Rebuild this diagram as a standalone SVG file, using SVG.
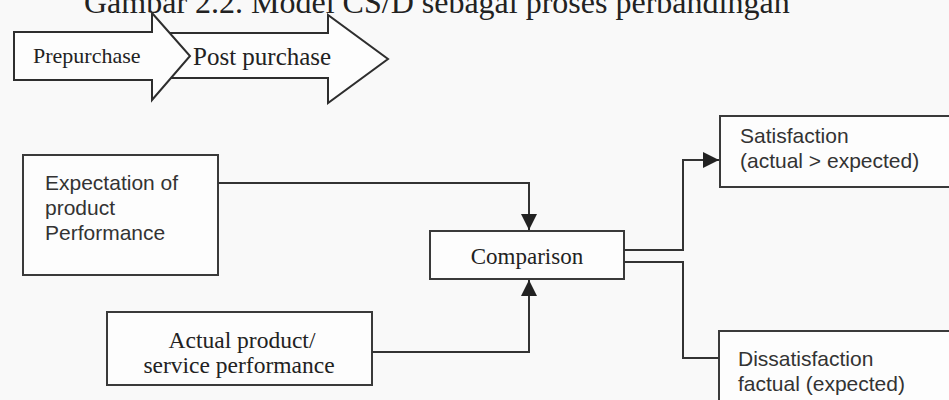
<svg xmlns="http://www.w3.org/2000/svg" width="949" height="400" viewBox="0 0 949 400">
<defs>
<style>
.box{fill:#fdfdfd;stroke:#3a3a3a;stroke-width:2}
.big{fill:#fdfdfd;stroke:#2e2e2e;stroke-width:2;stroke-linejoin:miter}
.con{fill:none;stroke:#333;stroke-width:2}
.serif{font-family:"Liberation Serif","Times New Roman",serif;fill:#222}
.sans{font-family:"Liberation Sans",Arial,sans-serif;fill:#333}
</style>
<marker id="ah" viewBox="0 0 16 16" refX="16" refY="8" markerWidth="16" markerHeight="16" orient="auto" markerUnits="userSpaceOnUse">
<path d="M0,0 L16,8 L0,16 z" fill="#222"/>
</marker>
</defs>
<rect x="0" y="0" width="949" height="400" fill="#f9f9f9"/>
<text class="serif" x="84" y="13" font-size="32">Gambar 2.2. Model CS/D sebagai proses perbandingan</text>

<g id="postpurchase">
<polygon class="big" points="150,33 328,33 328,15 388,59 328,103 328,78 150,78"/>
<text class="serif" x="193" y="65" font-size="25">Post purchase</text>
</g>
<g id="prepurchase">
<polygon class="big" points="14,32 152,32 152,13 190,56 152,100 152,80 14,80"/>
<text class="serif" x="33" y="63" font-size="22">Prepurchase</text>
</g>

<g id="expectation">
<rect class="box" x="23" y="155" width="195" height="120"/>
<text class="sans" x="45" y="190" font-size="21">Expectation of</text>
<text class="sans" x="45" y="215" font-size="21">product</text>
<text class="sans" x="45" y="240" font-size="21">Performance</text>
</g>

<g id="comparison">
<rect class="box" x="430" y="231" width="194" height="48"/>
<text class="serif" x="527" y="264" font-size="23" text-anchor="middle">Comparison</text>
</g>

<g id="actual">
<rect class="box" x="107" y="312" width="265" height="73"/>
<text class="serif" x="242" y="348" font-size="23.5" text-anchor="middle">Actual product/</text>
<text class="serif" x="239" y="373" font-size="23.5" text-anchor="middle">service performance</text>
</g>

<g id="satisfaction">
<rect class="box" x="720" y="116" width="240" height="71"/>
<text class="sans" x="740" y="143" font-size="21">Satisfaction</text>
<text class="sans" x="740" y="168" font-size="21">(actual &gt; expected)</text>
</g>

<g id="dissatisfaction">
<rect class="box" x="719" y="331" width="240" height="80"/>
<text class="sans" x="738" y="366" font-size="21">Dissatisfaction</text>
<text class="sans" x="738" y="391" font-size="21">factual (expected)</text>
</g>

<g id="connectors">
<path class="con" d="M218,183 H529 V230" marker-end="url(#ah)"/>
<path class="con" d="M372,352 H529 V280" marker-end="url(#ah)"/>
<path class="con" d="M624,250 H683 V160 H719" marker-end="url(#ah)"/>
<path class="con" d="M624,262 H683 V358 H719"/>
</g>
</svg>
